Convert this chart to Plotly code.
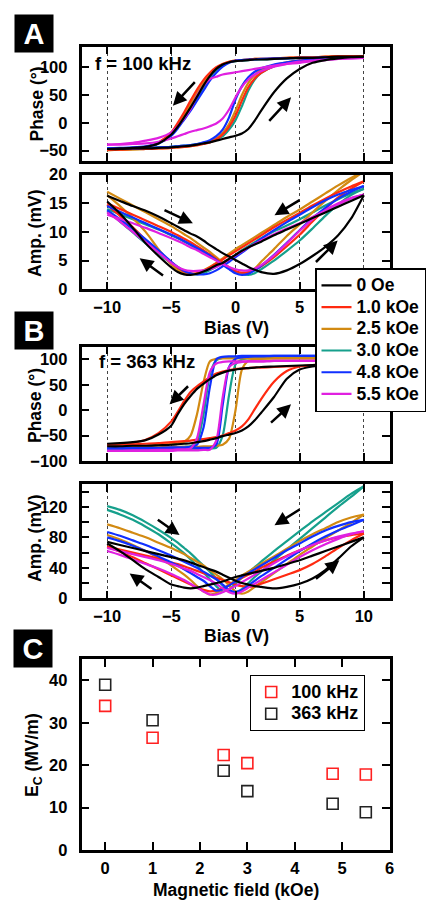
import plotly.graph_objects as go

# ---------------- data ----------------
BIAS = [-10, -9, -8, -7, -6, -5, -4.5, -4, -3.5, -3, -2.5, -2, -1.5, -1, -0.5,
        0, 0.5, 1, 1.5, 2, 3, 4, 5, 6, 7, 8, 9, 10]
FIELDS = ["0 Oe", "1.0 kOe", "2.5 kOe", "3.0 kOe", "4.8 kOe", "5.5 kOe"]
COLORS = ["#000000", "#ff2a10", "#d28a12", "#16a08c", "#1030ff", "#e020e0"]

# Panel A (f = 100 kHz) phase, increasing-bias branch, one row per field
A_PHASE_UP = [
    [-47, -47, -46, -46, -45, -44, -43, -42, -41, -39, -37, -35, -32, -29, -26, -23, -19, -11, 4, 22, 55, 80, 97, 108, 113, 116, 118, 119],
    [-48, -48, -47, -47, -46, -45, -44, -43, -42, -40, -38, -35, -30, -21, -7, 13, 40, 64, 80, 90, 102, 108, 112, 114, 116, 118, 119, 120],
    [-49, -48, -48, -47, -46, -45, -44, -43, -42, -40, -38, -34, -28, -18, -2, 22, 50, 72, 86, 95, 104, 109, 112, 114, 116, 118, 119, 120],
    [-46, -46, -46, -45, -44, -43, -42, -41, -40, -38, -36, -33, -29, -24, -12, 5, 30, 58, 78, 90, 102, 108, 112, 114, 116, 117, 118, 119],
    [-46, -46, -46, -45, -44, -43, -42, -41, -40, -38, -35, -31, -24, -12, 10, 42, 66, 82, 92, 98, 105, 109, 112, 114, 116, 117, 118, 118],
    [-39, -39, -38, -37, -34, -28, -24, -20, -16, -13, -10, -6, -1, 8, 24, 46, 65, 78, 87, 93, 101, 106, 110, 112, 114, 115, 116, 117],
]
# decreasing-bias branch (listed at ascending BIAS)
A_PHASE_DN = [
    [-47, -46, -45, -43, -37, -21, -7, 10, 28, 47, 67, 84, 97, 105, 109, 111, 112, 113, 114, 114, 115, 116, 117, 117, 118, 119, 119, 119],
    [-48, -47, -46, -43, -35, -17, 0, 19, 40, 60, 77, 90, 100, 106, 110, 112, 113, 114, 115, 115, 116, 117, 118, 118, 119, 120, 120, 120],
    [-49, -48, -47, -45, -37, -20, -4, 14, 34, 54, 72, 87, 98, 106, 110, 112, 113, 114, 115, 115, 116, 117, 118, 118, 119, 120, 120, 120],
    [-46, -46, -45, -43, -37, -22, -8, 8, 25, 44, 64, 82, 95, 104, 109, 111, 112, 113, 114, 114, 115, 116, 117, 117, 118, 118, 119, 119],
    [-46, -45, -44, -42, -37, -23, -10, 6, 22, 40, 58, 76, 90, 101, 108, 112, 113, 114, 114, 115, 116, 116, 117, 117, 118, 118, 118, 118],
    [-39, -38, -36, -32, -27, -17, -6, 8, 25, 49, 67, 79, 83, 87, 89, 91, 93, 95, 97, 99, 103, 106, 108, 111, 113, 115, 116, 117],
]
A_AMP_UP = [
    [16.3, 15.4, 14.5, 13.7, 12.7, 11.5, 10.9, 10.3, 9.7, 9.2, 8.5, 7.7, 7.0, 6.3, 5.7, 5.1, 4.5, 3.9, 3.4, 3.0, 2.7, 3.3, 4.4, 5.8, 7.4, 9.4, 12.3, 16.4],
    [15.0, 14.0, 13.0, 12.0, 11.0, 10.0, 9.4, 8.8, 8.2, 7.5, 6.8, 6.1, 5.3, 4.5, 3.8, 3.2, 2.9, 3.0, 3.4, 4.0, 5.6, 7.5, 9.5, 11.8, 14.0, 16.0, 17.5, 18.8],
    [17.0, 15.8, 14.6, 13.4, 12.2, 11.0, 10.3, 9.6, 8.9, 8.1, 7.3, 6.5, 5.6, 4.7, 3.8, 3.0, 2.7, 2.9, 3.6, 4.8, 7.0, 9.3, 11.3, 13.4, 15.4, 17.3, 19.0, 20.5],
    [14.0, 13.1, 12.2, 11.3, 10.4, 9.4, 8.9, 8.3, 7.7, 7.1, 6.5, 5.8, 5.1, 4.4, 3.7, 3.1, 2.7, 2.5, 2.8, 3.5, 5.0, 6.7, 8.5, 10.6, 12.8, 14.8, 16.4, 17.5],
    [14.5, 13.5, 12.5, 11.5, 10.5, 9.5, 9.0, 8.4, 7.8, 7.2, 6.6, 5.9, 5.1, 4.3, 3.5, 2.8, 2.5, 2.7, 3.3, 4.1, 6.0, 8.1, 10.3, 12.4, 14.2, 15.8, 17.0, 18.0],
    [13.0, 12.3, 11.5, 10.7, 9.8, 8.9, 8.4, 7.9, 7.3, 6.8, 6.2, 5.6, 5.0, 4.4, 3.9, 3.5, 3.3, 3.3, 3.6, 4.2, 5.9, 8.0, 10.2, 12.2, 13.8, 15.0, 15.9, 16.5],
]
A_AMP_DN = [
    [15.3, 13.2, 10.7, 8.0, 5.8, 3.8, 3.0, 2.6, 2.5, 2.7, 3.1, 3.6, 4.2, 4.6, 5.3, 6.0, 6.7, 7.3, 7.8, 8.3, 9.4, 10.4, 11.4, 12.4, 13.4, 14.4, 15.4, 16.4],
    [14.7, 12.8, 10.8, 8.6, 6.6, 4.7, 3.8, 3.1, 2.8, 2.8, 3.2, 3.8, 4.5, 5.2, 5.9, 6.6, 7.3, 8.0, 8.7, 9.4, 10.8, 12.1, 13.3, 14.6, 15.8, 16.9, 17.9, 18.8],
    [16.4, 14.5, 12.4, 10.0, 7.0, 4.3, 3.3, 2.8, 2.6, 2.8, 3.3, 3.9, 4.6, 5.4, 6.2, 7.0, 7.7, 8.4, 9.1, 9.8, 11.2, 12.6, 13.9, 15.3, 16.7, 18.1, 19.4, 20.5],
    [13.6, 11.8, 9.9, 8.0, 6.2, 4.5, 3.7, 3.1, 2.7, 2.6, 2.8, 3.3, 3.9, 4.6, 5.3, 6.0, 6.8, 7.5, 8.2, 8.9, 10.1, 11.1, 12.2, 13.4, 14.6, 15.7, 16.7, 17.5],
    [13.8, 12.2, 10.5, 8.7, 6.8, 4.8, 3.9, 3.2, 2.8, 2.6, 2.6, 2.8, 3.3, 4.0, 4.8, 5.6, 6.4, 7.2, 8.0, 8.8, 10.3, 11.7, 13.0, 14.3, 15.5, 16.5, 17.3, 18.0],
    [13.4, 11.8, 10.0, 8.2, 6.4, 4.6, 3.9, 3.4, 3.2, 3.2, 3.3, 3.5, 3.9, 4.5, 5.2, 5.9, 6.6, 7.3, 7.9, 8.5, 9.6, 10.6, 11.5, 12.6, 13.7, 14.8, 15.8, 16.5],
]

# Panel B (f = 363 kHz)
B_PHASE_UP = [
    [-71, -71, -70, -70, -69, -68, -67, -66, -65, -63, -61, -58, -55, -51, -48, -45, -40, -32, -20, -5, 26, 62, 80, 86, 89, 91, 92, 92],
    [-68, -68, -67, -66, -65, -63, -62, -61, -60, -58, -57, -55, -53, -50, -45, -40, -32, -18, 2, 22, 56, 77, 86, 89, 90, 91, 91, 91],
    [-73, -73, -73, -73, -73, -72, -72, -72, -72, -72, -71, -71, -70, -68, -56, 0, 80, 97, 100, 101, 102, 102, 102, 102, 102, 102, 102, 102],
    [-76, -76, -76, -76, -76, -76, -76, -76, -76, -76, -75, -75, -74, -50, 30, 90, 100, 102, 103, 104, 104, 104, 104, 104, 104, 104, 104, 104],
    [-75, -75, -75, -75, -75, -75, -75, -75, -74, -74, -74, -74, -68, 10, 85, 101, 104, 105, 106, 106, 107, 107, 107, 107, 107, 107, 107, 107],
    [-80, -80, -80, -80, -80, -80, -79, -79, -79, -79, -78, -78, -60, 25, 85, 93, 95, 96, 96, 96, 97, 97, 97, 97, 97, 97, 97, 97],
]
B_PHASE_DN = [
    [-66, -65, -63, -59, -48, -30, -8, 12, 28, 42, 52, 61, 69, 74, 78, 80, 82, 83, 84, 85, 86, 87, 88, 89, 90, 91, 92, 92],
    [-68, -67, -64, -58, -45, -22, -3, 18, 36, 47, 56, 65, 72, 76, 79, 81, 82, 83, 84, 84, 85, 86, 87, 87, 88, 88, 89, 91],
    [-73, -72, -71, -70, -68, -66, -65, -62, -50, -8, 54, 96, 101, 102, 102, 102, 102, 102, 102, 102, 102, 102, 102, 102, 102, 102, 102, 102],
    [-76, -76, -75, -75, -74, -73, -73, -72, -71, -62, -10, 70, 98, 103, 104, 104, 104, 104, 104, 104, 104, 104, 104, 104, 104, 104, 104, 104],
    [-75, -75, -74, -74, -74, -73, -73, -73, -72, -68, -35, 45, 100, 105, 106, 106, 107, 107, 107, 107, 107, 107, 107, 107, 107, 107, 107, 107],
    [-80, -80, -79, -79, -78, -78, -77, -77, -75, -55, 10, 75, 92, 95, 96, 96, 96, 96, 96, 96, 97, 97, 97, 97, 97, 97, 97, 97],
]
B_AMP_UP = [
    [74, 70, 66, 62, 58, 54, 52, 50, 47, 44, 41, 38, 35, 31, 27, 23, 20, 18, 16, 15, 13, 15, 19, 26, 37, 52, 68, 80],
    [68, 64, 60, 56, 52, 47, 45, 42, 39, 36, 33, 30, 27, 24, 21, 18, 16, 15, 16, 19, 25, 31, 37, 45, 55, 66, 76, 85],
    [97, 92, 86, 80, 73, 66, 62, 58, 53, 48, 43, 37, 31, 25, 17, 9, 6, 9, 15, 21, 33, 45, 57, 68, 79, 89, 99, 110],
    [121, 116, 109, 100, 90, 79, 73, 66, 59, 51, 43, 35, 26, 17, 10, 8, 12, 20, 28, 35, 50, 64, 78, 92, 106, 120, 133, 147],
    [87, 82, 76, 70, 63, 56, 52, 48, 44, 40, 35, 30, 25, 18, 11, 8, 11, 17, 23, 29, 40, 51, 62, 72, 81, 89, 96, 103],
    [66, 62, 58, 54, 50, 45, 42, 39, 36, 32, 28, 24, 19, 13, 8, 6, 9, 14, 19, 24, 34, 44, 54, 63, 71, 78, 84, 88],
]
B_AMP_DN = [
    [72, 62, 50, 38, 28, 18, 16, 14, 13, 14, 16, 18, 20, 22, 25, 28, 30, 32, 34, 36, 40, 45, 50, 56, 62, 68, 74, 80],
    [68, 61, 54, 46, 38, 30, 26, 22, 18, 14, 11, 9, 10, 13, 17, 22, 27, 31, 35, 40, 48, 56, 63, 70, 76, 80, 83, 85],
    [83, 77, 70, 62, 53, 43, 37, 31, 24, 16, 9, 5, 7, 12, 18, 24, 30, 35, 40, 45, 55, 65, 75, 84, 92, 100, 106, 110],
    [116, 110, 103, 94, 84, 72, 66, 59, 51, 43, 34, 25, 16, 9, 12, 19, 27, 34, 41, 48, 62, 75, 88, 101, 113, 125, 137, 147],
    [80, 75, 69, 62, 55, 47, 43, 38, 33, 28, 23, 16, 10, 12, 17, 22, 28, 33, 38, 43, 53, 63, 72, 81, 89, 95, 100, 103],
    [62, 57, 51, 45, 39, 32, 28, 24, 19, 14, 9, 5, 5, 8, 12, 16, 21, 26, 31, 36, 46, 55, 63, 70, 76, 81, 85, 88],
]

# Panel C
FIELD_KOE = [0, 1, 2.5, 3, 4.8, 5.5]
EC_100KHZ = [34.0, 26.5, 22.4, 20.5, 18.0, 17.8]
EC_363KHZ = [39.0, 30.6, 18.7, 13.9, 10.9, 8.9]

for arr in (A_PHASE_UP, A_PHASE_DN, A_AMP_UP, A_AMP_DN, B_PHASE_UP, B_PHASE_DN, B_AMP_UP, B_AMP_DN):
    for row in arr:
        assert len(row) == len(BIAS), len(row)

# ---------------- layout helpers ----------------
W, H = 426, 901
FONT = "Liberation Sans, Arial, Helvetica, sans-serif"


def px(x):
    return x / W


def py(y):
    return 1 - y / H


def big(t, size):
    return f'<span style="font-size:{size}px">{t}</span>'


XDOM = [px(81.5), px(389.5)]
DOMS = {
    1: [py(160.7), py(46.7)],
    2: [py(289.3), py(174.5)],
    3: [py(461.0), py(346.7)],
    4: [py(598.3), py(484.0)],
    5: [py(850.0), py(659.3)],
}

fig = go.Figure()

DRAW_ORDER = [3, 2, 1, 4, 5, 0]
PANELS = [(1, A_PHASE_UP, A_PHASE_DN), (2, A_AMP_UP, A_AMP_DN),
          (3, B_PHASE_UP, B_PHASE_DN), (4, B_AMP_UP, B_AMP_DN)]

for k, up, dn in PANELS:
    for i in DRAW_ORDER:
        xs = BIAS + [None] + BIAS[::-1]
        ys = up[i] + [None] + dn[i][::-1]
        fig.add_trace(go.Scatter(
            x=xs, y=ys, mode="lines",
            line=dict(color=COLORS[i], width=2.2, shape="spline", smoothing=0.7),
            name=big(FIELDS[i], 17.5), legendgroup=FIELDS[i], legendrank=i + 1,
            showlegend=(k == 1), connectgaps=False,
            xaxis="x" if k == 1 else f"x{k}", yaxis="y" if k == 1 else f"y{k}",
        ))

fig.add_trace(go.Scatter(
    x=FIELD_KOE, y=EC_100KHZ, mode="markers", name=big("100 kHz", 18),
    marker=dict(symbol="square-open", size=11, color="#ff2020", line=dict(width=1.6)),
    xaxis="x5", yaxis="y5", legend="legend2"))
fig.add_trace(go.Scatter(
    x=FIELD_KOE, y=EC_363KHZ, mode="markers", name=big("363 kHz", 18),
    marker=dict(symbol="square-open", size=11, color="#222222", line=dict(width=1.6)),
    xaxis="x5", yaxis="y5", legend="legend2"))

axis_common = dict(
    showline=True, linecolor="black", linewidth=2.5, mirror="ticks",
    ticks="inside", ticklen=8, tickwidth=2, tickcolor="black",
    zeroline=False, tickfont=dict(size=16.5, family=FONT, color="black", weight="bold"),
)

layout = dict(
    width=W, height=H, autosize=False,
    margin=dict(l=0, r=0, t=0, b=0, autoexpand=False),
    paper_bgcolor="white", plot_bgcolor="white",
    font=dict(family=FONT, size=17, color="black", weight="bold"),
)

for k in range(1, 6):
    xa = dict(axis_common, domain=XDOM, anchor="y" if k == 1 else f"y{k}")
    ya = dict(axis_common, domain=DOMS[k], anchor="x" if k == 1 else f"x{k}")
    if k <= 4:
        xa.update(range=[-12, 12], tickvals=[-10, -5, 0, 5, 10],
                  showgrid=True, gridcolor="#444444", griddash="dot", gridwidth=1,
                  showticklabels=(k in (2, 4)), ticklabelstandoff=1)
    else:
        xa.update(range=[-0.5, 6], dtick=1, tick0=0, showgrid=False, ticklabelstandoff=1)
    ya.update(showgrid=False, ticklabelstandoff=8)
    if k == 1:
        ya.update(range=[-68, 137], tickvals=[-50, 0, 50, 100])
    elif k == 2:
        ya.update(range=[0, 20], tickvals=[0, 5, 10, 15, 20])
    elif k == 3:
        ya.update(range=[-100, 125], tickvals=[-100, -50, 0, 50, 100])
    elif k == 4:
        ya.update(range=[0, 150], tickvals=[0, 40, 80, 120],
                  minor=dict(tickvals=[20, 60, 100, 140], ticks="inside", ticklen=8,
                             tickwidth=2, tickcolor="black"))
    else:
        ya.update(range=[0, 45], tickvals=[0, 10, 20, 30, 40])
    layout["xaxis" if k == 1 else f"xaxis{k}"] = xa
    layout["yaxis" if k == 1 else f"yaxis{k}"] = ya

# legend font size sets the row pitch (size*1.3+3 px); visible text size set by span
layout["legend"] = dict(
    x=px(315), y=py(268), xanchor="left", yanchor="top",
    bgcolor="white", bordercolor="black", borderwidth=1.5,
    font=dict(size=14.4, family=FONT, color="black", weight="bold"),
    itemwidth=30, tracegroupgap=0,
)
layout["legend2"] = dict(
    x=px(250), y=py(675), xanchor="left", yanchor="top",
    bgcolor="white", bordercolor="black", borderwidth=1.2,
    font=dict(size=14.4, family=FONT, color="black", weight="bold"),
    itemwidth=30,
)

fig.update_layout(**layout)

ann = []


def title(text, x, y, angle=0, size=17.5):
    ann.append(dict(text=text, x=px(x), y=py(y), xref="paper", yref="paper",
                    showarrow=False, textangle=angle, xanchor="center", yanchor="middle",
                    font=dict(size=size, family=FONT, color="black", weight="bold")))


title("Phase (°)", 36.5, 104, -90)
title("Amp. (mV)", 35, 233, -90)
title("Bias (V)", 236, 328)
title("Phase (°)", 35, 406, -90)
title("Amp. (mV)", 35, 538, -90)
title("Bias (V)", 236, 636)
title("E<sub>C</sub> (MV/m)", 33, 755, -90)
title("Magnetic field (kOe)", 236, 890)

for txt, x, y in (("f = 100 kHz", 93, 63), ("f = 363 kHz", 96.5, 361.5)):
    ann.append(dict(text=txt, x=px(x), y=py(y), xref="paper", yref="paper",
                    showarrow=False, xanchor="left", yanchor="middle",
                    font=dict(size=18.5, family=FONT, color="black", weight="bold")))

for letter, cx, cy in (("A", 34.2, 33.7), ("B", 34.2, 330.8), ("C", 33.3, 648.3)):
    ann.append(dict(text=letter, x=px(cx), y=py(cy), xref="paper", yref="paper",
                    showarrow=False, xanchor="center", yanchor="middle",
                    width=38, height=37, bgcolor="black", borderpad=0,
                    font=dict(size=29, family=FONT, color="white", weight="bold")))

# direction arrows (head, tail) in data coordinates
ARROWS = {
    1: [((-4.88, 31), (-3.06, 76)), ((4.33, 46), (2.52, 1))],
    2: [((-3.32, 11.5), (-5.65, 13.9)), ((-7.47, 5.4), (-5.53, 2.2)),
        ((3.04, 12.9), (5.11, 15.7)), ((7.96, 8.5), (6.15, 4.5))],
    3: [((-5.14, 11.5), (-3.58, 50)), ((4.33, 11.5), (2.65, -27))],
    4: [((-4.36, 83), (-6.17, 104.6)), ((-8.25, 32.7), (-6.43, 10.9)),
        ((3.04, 95.9), (5.11, 117.8)), ((8.09, 50), (6.15, 24))],
}
for k, arrs in ARROWS.items():
    xr = "x" if k == 1 else f"x{k}"
    yr = "y" if k == 1 else f"y{k}"
    for (hx, hy), (tx, ty) in arrs:
        ann.append(dict(x=hx, y=hy, ax=tx, ay=ty, xref=xr, yref=yr, axref=xr, ayref=yr,
                        text="", showarrow=True, arrowhead=2, arrowsize=1.1,
                        arrowwidth=2.5, arrowcolor="black", standoff=0, startstandoff=0))

fig.update_layout(annotations=ann)
fig.write_html("out.html", config={"displayModeBar": False},
               post_script="document.body.style.margin='0';document.body.style.padding='0';")
